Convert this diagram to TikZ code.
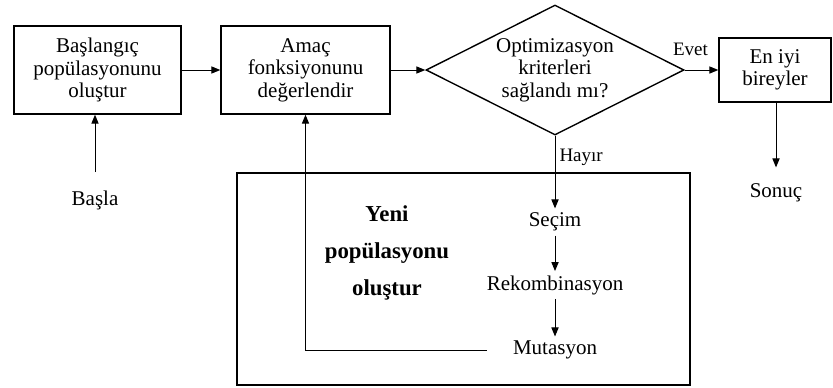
\documentclass[tikz,border=0pt]{standalone}
\usepackage{fontspec}
\setmainfont{Liberation Serif}
\usetikzlibrary{shapes.geometric, arrows.meta}

\begin{document}
\begin{tikzpicture}[x=0.5pt, y=-0.5pt,
    every node/.style={font=\fontsize{10.5}{11.25}\selectfont},
    kutu/.style={draw, line width=0.7pt, align=center, inner sep=0pt},
    ok/.style={-{Triangle[length=4.5pt, width=3.6pt]}, line width=0.5pt},
    adim/.style={inner sep=2pt},
    etiket/.style={font=\fontsize{9.5}{11}\selectfont, inner sep=2pt}]
  \useasboundingbox (0,0) rectangle (833,387);

  \node[kutu, minimum width=83.5pt, minimum height=44pt] (kur) at (97.5,70) {Başlangıç\\popülasyonunu\\oluştur};
  \node[kutu, minimum width=84.5pt, minimum height=44pt] (deg) at (305.5,70) {Amaç\\fonksiyonunu\\değerlendir};
  \node[kutu, diamond, aspect=2, minimum width=129pt, minimum height=65pt] (kriter) at (555,70) {Optimizasyon\\kriterleri\\sağlandı mı?};
  \node[kutu, minimum width=56pt, minimum height=32pt] (eniyi) at (775,70) {En iyi\\bireyler};
  \node[draw, line width=0.7pt, minimum width=226.5pt, minimum height=106pt, inner sep=0pt] (yeni) at (463.5,279) {};
  \node[font=\fontsize{11.4}{18.5}\selectfont\bfseries, align=center] (yenietiket) at (387,253) {Yeni\\popülasyonu\\oluştur};

  \node[adim] (basla) at (95,200) {Başla};
  \node[adim] (sonuc) at (776,193) {Sonuç};
  \node[adim] (secim) at (555,222) {Seçim};
  \node[adim] (rek) at (555,285) {Rekombinasyon};
  \node[adim] (mut) at (555,350) {Mutasyon};

  \draw[ok, shorten <=7pt] (basla.north) -- (basla.north |- kur.south);
  \draw[ok] (kur) -- (deg);
  \draw[ok] (deg) -- (kriter);
  \draw[ok] (kriter) -- node[etiket, above=5pt, pos=0.17] {Evet} (eniyi);
  \draw[ok, shorten >=6pt] (eniyi.south -| sonuc.north) -- (sonuc.north);
  \draw[ok] (kriter.south) -- node[etiket, right, pos=0.3] {Hayır} (secim.north);
  \draw[ok] (secim) -- (rek);
  \draw[ok] (rek) -- (mut);
  \draw[ok] ([xshift=-11pt]mut.west) -| (deg.south);
\end{tikzpicture}
\end{document}
